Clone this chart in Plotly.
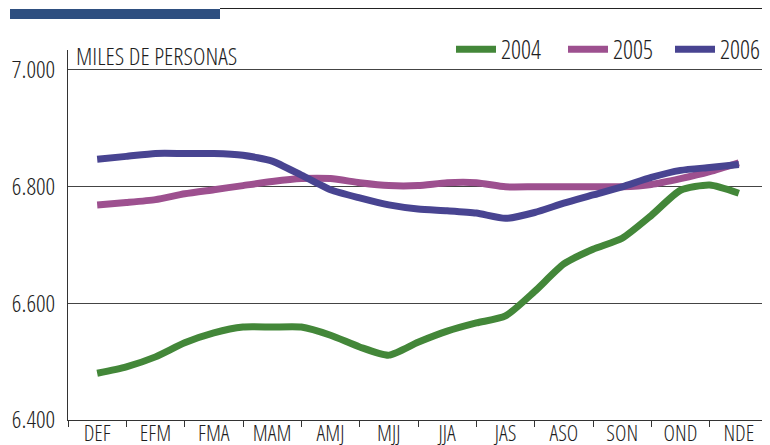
import plotly.graph_objects as go

periods = ["DEF", "EFM", "FMA", "MAM", "AMJ", "MJJ", "JJA", "JAS", "ASO", "SON", "OND", "NDE"]
x_steps = [i * 0.5 for i in range(23)]

y2004 = [6480, 6491, 6508, 6532, 6549, 6559, 6559, 6559, 6545, 6525, 6511, 6533,
         6552, 6566, 6578, 6620, 6667, 6692, 6711, 6750, 6793, 6802, 6788]
y2005 = [6768, 6772, 6777, 6787, 6794, 6801, 6808, 6813, 6813, 6806, 6801, 6801,
         6806, 6806, 6799, 6799, 6799, 6799, 6799, 6803, 6813, 6825, 6840]
y2006 = [6846, 6851, 6856, 6856, 6856, 6853, 6843, 6819, 6794, 6780, 6768, 6761,
         6758, 6754, 6745, 6755, 6771, 6785, 6799, 6815, 6827, 6832, 6837]

series_names = ["2004", "2005", "2006"]
series_colors = ["rgb(67,135,57)", "rgb(157,80,143)", "rgb(72,68,145)"]

y_tickvals = [6400, 6600, 6800, 7000]
y_ticktext = ["6.400", "6.600", "6.800", "7.000"]

FONT = "Open Sans Condensed Light, Liberation Sans, sans-serif"
TXT = "#1e1e1e"

# page body has an 8px default margin: figure is 762x437 drawn at (8, 8)
fig = go.Figure()
legends = ["legend", "legend2", "legend3"]
for name, ys, col, lg in zip(series_names, [y2004, y2005, y2006], series_colors, legends):
    fig.add_trace(go.Scatter(
        x=x_steps, y=ys, mode="lines", name=name, legend=lg,
        line=dict(color=col, width=7, shape="spline", smoothing=0.6),
        hoverinfo="skip",
    ))

def leg(xpix):
    return dict(x=(xpix - 68) / 700, xanchor="left", y=(420 - 49.5) / 370, yanchor="middle",
                font=dict(size=25, family=FONT, color=TXT),
                bgcolor="rgba(0,0,0,0)", itemwidth=40, orientation="h")

fig.update_layout(
    width=762, height=437,
    margin=dict(l=60, r=2, t=42, b=25, autoexpand=False),
    paper_bgcolor="white", plot_bgcolor="white",
    font=dict(family=FONT, color=TXT, size=22),
    showlegend=True,
    legend=leg(451), legend2=leg(563), legend3=leg(670),
    xaxis=dict(
        range=[-0.5, 11.5], tickmode="array",
        tickvals=list(range(len(periods))), ticktext=periods,
        ticks="", showgrid=False, zeroline=False,
        showline=True, linecolor="#333", linewidth=1,
        tickfont=dict(size=22, family=FONT, color=TXT),
        ticklabelstandoff=-6,
        minor=dict(tickmode="linear", tick0=-0.5, dtick=1, ticks="outside",
                   ticklen=6, tickcolor="#333", tickwidth=1, showgrid=False),
        automargin=False,
        fixedrange=True,
    ),
    yaxis=dict(
        range=[6400, 7033], tickmode="array",
        tickvals=y_tickvals, ticktext=y_ticktext,
        ticks="", showgrid=True, gridcolor="#444", gridwidth=1,
        zeroline=False, showline=True, linecolor="#333", linewidth=1,
        tickfont=dict(size=24, family=FONT, color=TXT),
        ticklabelstandoff=7,
        automargin=False,
        fixedrange=True,
    ),
    shapes=[
        dict(type="rect", xref="paper", yref="paper",
             x0=(10 - 68) / 700, x1=(220 - 68) / 700,
             y0=(420 - 19) / 370, y1=(420 - 9) / 370,
             fillcolor="rgb(46,79,128)", line=dict(width=0)),
        dict(type="line", xref="paper", yref="paper",
             x0=(220 - 68) / 700, x1=1.003,
             y0=(420 - 8.5) / 370, y1=(420 - 8.5) / 370,
             line=dict(color="#222", width=1)),
    ],
    annotations=[
        dict(text="MILES DE PERSONAS", xref="paper", yref="paper",
             x=(74 - 68) / 700, y=(420 - 56) / 370, xanchor="left", yanchor="middle",
             showarrow=False, font=dict(size=24, family=FONT, color=TXT)),
    ],
)

fig.write_html("out.html")
